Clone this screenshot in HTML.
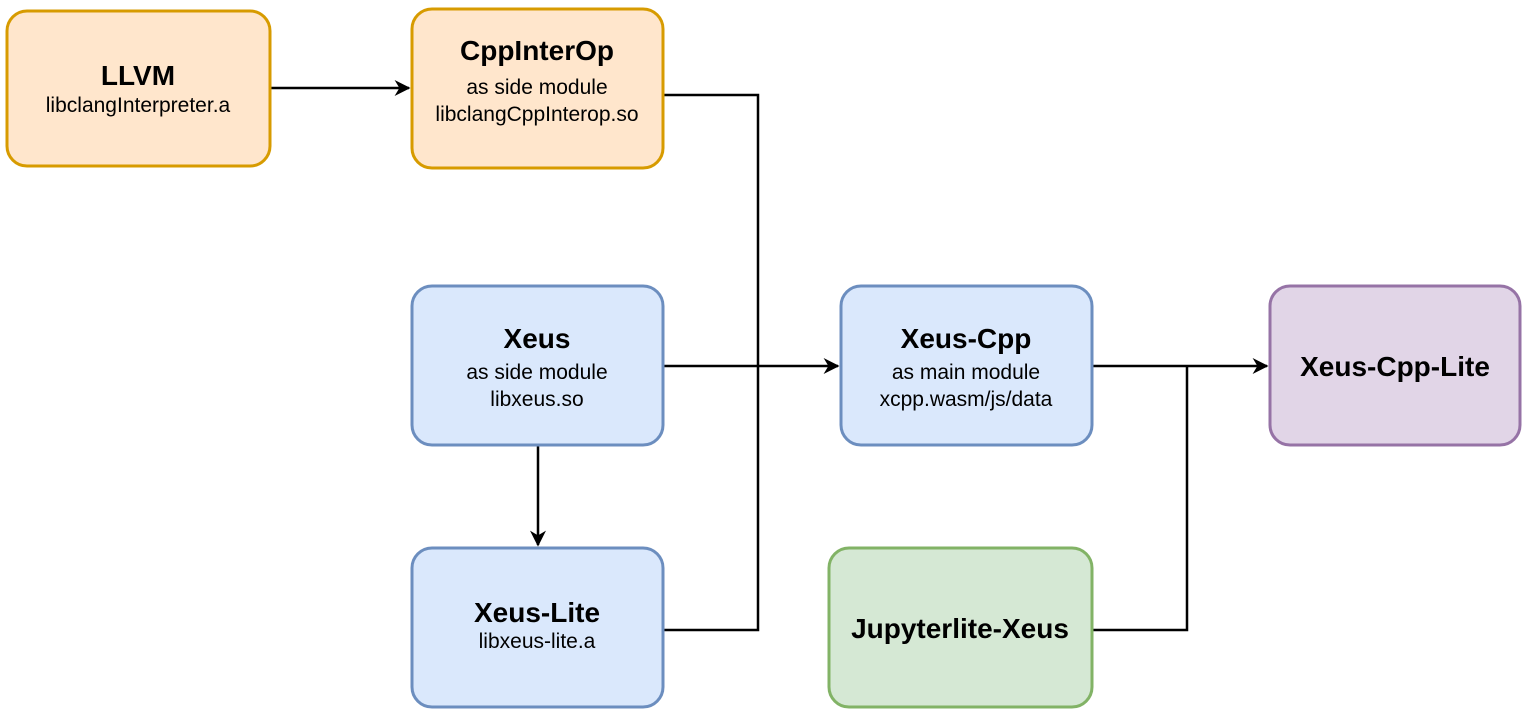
<!DOCTYPE html>
<html><head><meta charset="utf-8"><style>
html,body{margin:0;padding:0;background:#fff;}
svg{display:block;}
text{font-family:"Liberation Sans",Arial,sans-serif;fill:#000;text-anchor:middle;}
.t{font-weight:bold;font-size:28px;}
.s{font-size:21px;}
</style></head><body>
<svg width="1528" height="716" viewBox="0 0 1528 716" xmlns="http://www.w3.org/2000/svg">
<defs>
<marker id="b" viewBox="0 0 10 10" markerWidth="16" markerHeight="16" refX="9" refY="5" orient="auto" markerUnits="userSpaceOnUse">
<path d="M0,0 L10,5 L0,10 L3,5 z" fill="#000"/>
</marker>
</defs>
<g stroke="#000" stroke-width="2.5" fill="none">
<line x1="270" y1="88" x2="409" y2="88" marker-end="url(#b)"/>
<polyline points="663,95 758,95 758,630 663,630"/>
<line x1="663" y1="366" x2="838" y2="366" marker-end="url(#b)"/>
<line x1="1092" y1="366" x2="1267" y2="366" marker-end="url(#b)"/>
<polyline points="1092,630 1187,630 1187,366"/>
<line x1="538" y1="445" x2="538" y2="545" marker-end="url(#b)"/>
</g>
<g stroke-width="3">
<rect x="7" y="11" width="263" height="155" rx="20" fill="#ffe6cc" stroke="#d79b00"/>
<rect x="412" y="9" width="251" height="159" rx="20" fill="#ffe6cc" stroke="#d79b00"/>
<rect x="412" y="286" width="251" height="159" rx="20" fill="#dae8fc" stroke="#6c8ebf"/>
<rect x="412" y="548" width="251" height="159" rx="20" fill="#dae8fc" stroke="#6c8ebf"/>
<rect x="841" y="286" width="251" height="159" rx="20" fill="#dae8fc" stroke="#6c8ebf"/>
<rect x="829" y="548" width="263" height="159" rx="20" fill="#d5e8d4" stroke="#82b366"/>
<rect x="1270" y="286" width="250" height="159" rx="20" fill="#e1d5e7" stroke="#9673a6"/>
</g>
<text class="t" x="138" y="85">LLVM</text>
<text class="s" x="138" y="112">libclangInterpreter.a</text>
<text class="t" x="537" y="60">CppInterOp</text>
<text class="s" x="537" y="94">as side module</text>
<text class="s" x="537" y="121">libclangCppInterop.so</text>
<text class="t" x="537" y="348">Xeus</text>
<text class="s" x="537" y="379">as side module</text>
<text class="s" x="537" y="406">libxeus.so</text>
<text class="t" x="537" y="622">Xeus-Lite</text>
<text class="s" x="537" y="648">libxeus-lite.a</text>
<text class="t" x="966" y="348">Xeus-Cpp</text>
<text class="s" x="966" y="379">as main module</text>
<text class="s" x="966" y="406">xcpp.wasm/js/data</text>
<text class="t" x="960" y="638">Jupyterlite-Xeus</text>
<text class="t" x="1395" y="376">Xeus-Cpp-Lite</text>
</svg>
</body></html>
